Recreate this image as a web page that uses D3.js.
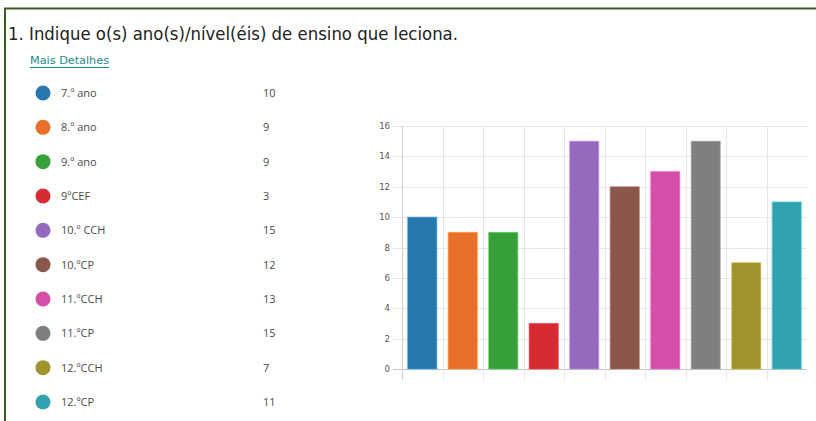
<!DOCTYPE html>
<html><head><meta charset="utf-8">
<script src="https://cdn.jsdelivr.net/npm/d3@7"></script>
<style>html,body{margin:0;padding:0;background:#fff;}svg{display:block;}</style>
</head><body>
<script>
const categories = ["7.º ano","8.º ano","9.º ano","9ºCEF","10.º CCH","10.ºCP","11.ºCCH","11.ºCP","12.ºCCH","12.ºCP"];
const values = [10,9,9,3,15,12,13,15,7,11];
const colors = ["#2878b0","#e8702a","#37a03a","#d62b33","#9569bb","#8b574c","#d34faa","#7f7f7f","#a0922d","#31a2ae"];
const yTicks = [0,2,4,6,8,10,12,14,16];
const titleText = "1.  Indique o(s) ano(s)/nível(éis) de ensino que leciona.";
const linkText = "Mais Detalhes";

const W = 816, H = 421;
const svg = d3.select("body").append("svg").attr("width", W).attr("height", H);

// border
svg.append("line").attr("x1",4).attr("x2",816).attr("y1",8.5).attr("y2",8.5).attr("stroke","#3b5a23").attr("stroke-width",2);
svg.append("line").attr("x1",5).attr("x2",5).attr("y1",8).attr("y2",H).attr("stroke","#3b5a23").attr("stroke-width",2);

// title
const title = svg.append("text").attr("x",8).attr("y",40).attr("font-family","DejaVu Sans Condensed, Liberation Sans, sans-serif")
  .attr("font-size",17).attr("fill","#222").text(titleText);
title.attr("textLength",450).attr("lengthAdjust","spacingAndGlyphs");

const link = svg.append("text").attr("x",30).attr("y",64).attr("font-family","DejaVu Sans, sans-serif")
  .attr("font-size",10.5).attr("fill","#1c8c8c").text(linkText).attr("textLength",79).attr("lengthAdjust","spacingAndGlyphs");
svg.append("line").attr("x1",30).attr("x2",109).attr("y1",67.5).attr("y2",67.5).attr("stroke","#1c8c8c").attr("stroke-width",1);

// legend
const legY = d3.scalePoint().domain(categories).range([93,402]);
const leg = svg.append("g").selectAll("g").data(categories).join("g")
  .attr("transform", d => `translate(0,${legY(d)})`);
leg.append("circle").attr("cx",43).attr("cy",0).attr("r",7.5).attr("fill",(d,i)=>colors[i]);
leg.append("text").attr("x",61).attr("y",4).attr("font-family","Open Sans, sans-serif").attr("font-size",11)
  .attr("fill","#4a4a4a").text(d=>d);
leg.append("text").attr("x",263).attr("y",4).attr("font-family","Open Sans, sans-serif").attr("font-size",11)
  .attr("fill","#4a4a4a").text((d,i)=>values[i]);

// chart
const x = d3.scaleBand().domain(categories).range([402,807]).paddingInner(0.28).paddingOuter(0.14);
const y = d3.scaleLinear().domain([0,16]).range([369,126]);
const step = x.step();
const bandStart = d => 402 + categories.indexOf(d)*step;

const g = svg.append("g");
// horizontal grid
g.selectAll("line.h").data(yTicks).join("line").attr("class","h")
  .attr("x1",393).attr("x2",807).attr("y1",d=>Math.round(y(d))+0.5).attr("y2",d=>Math.round(y(d))+0.5)
  .attr("stroke",d=>d===0?"#c4c4c4":"#e6e6e6").attr("stroke-width",1);
// vertical grid
g.selectAll("line.v").data(categories).join("line").attr("class","v")
  .attr("x1",d=>Math.round(bandStart(d))+0.5).attr("x2",d=>Math.round(bandStart(d))+0.5)
  .attr("y1",126).attr("y2",380).attr("stroke",(d,i)=>i===0?"#d0d0d0":"#e6e6e6").attr("stroke-width",1);
// y labels
g.selectAll("text.yt").data(yTicks).join("text").attr("class","yt")
  .attr("x",390).attr("y",d=>y(d)+3).attr("text-anchor","end")
  .attr("font-family","DejaVu Sans, sans-serif").attr("font-size",8.5).attr("fill","#555").text(d=>d);
// bars
g.selectAll("rect").data(categories).join("rect")
  .attr("x",d=>x(d)).attr("width",x.bandwidth())
  .attr("y",(d,i)=>y(values[i])).attr("height",(d,i)=>y(0)-y(values[i]))
  .attr("fill",(d,i)=>colors[i])
  .attr("stroke",(d,i)=>d3.color(colors[i]).brighter(0.8)).attr("stroke-width",1).attr("stroke-opacity",0.6);
</script>
</body></html>
